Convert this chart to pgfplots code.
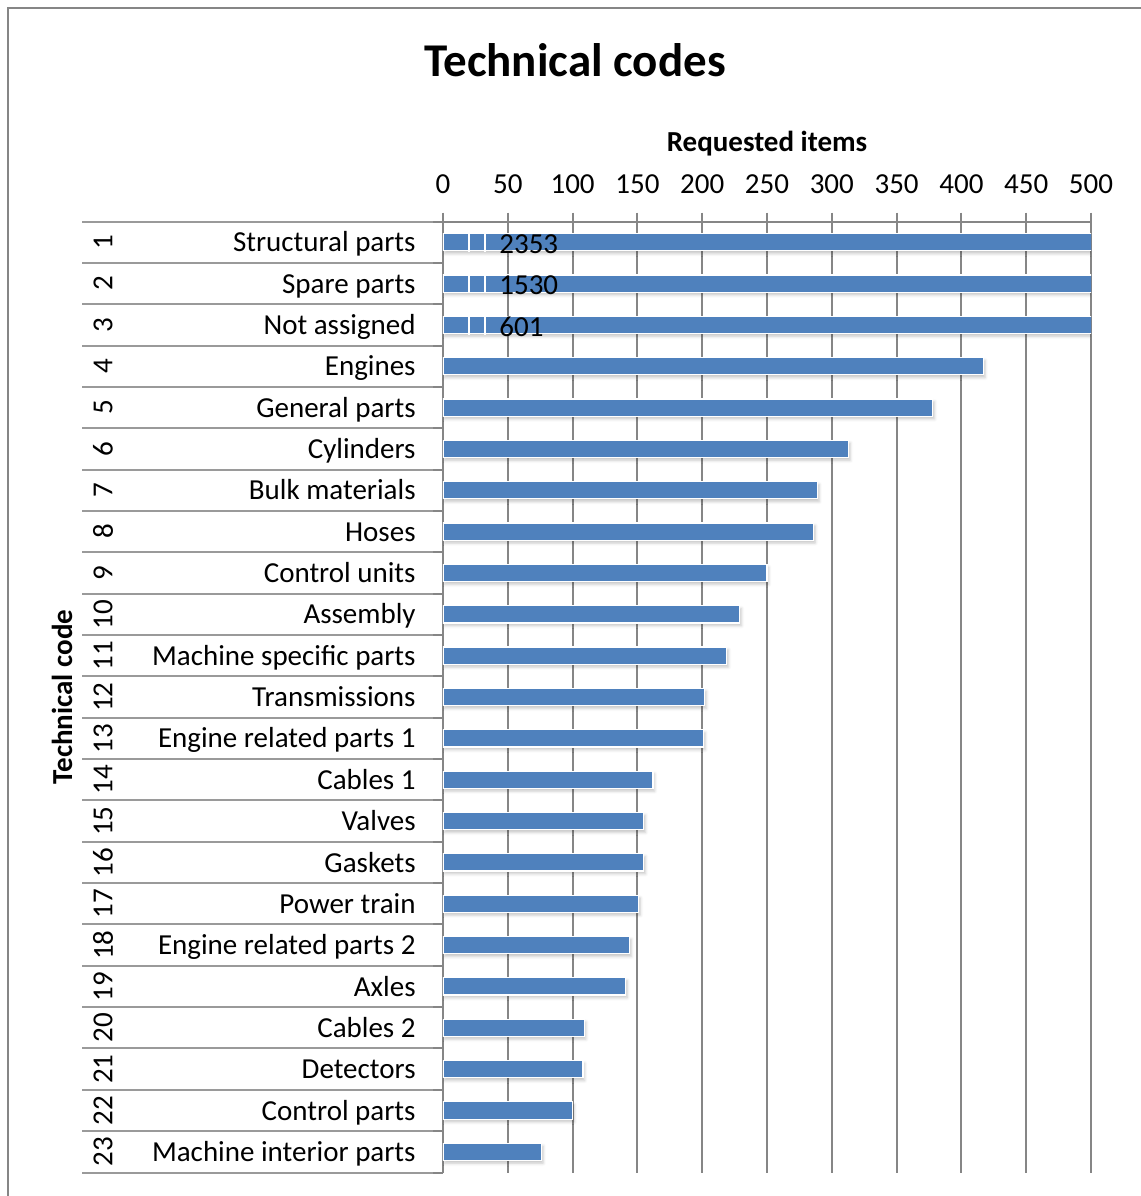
\documentclass[border=0pt]{standalone}
\usepackage{pgfplots}
\pgfplotsset{compat=1.18}
\usepackage{fontspec}
\setmainfont{Carlito}
\usetikzlibrary{shadows.blur}
\definecolor{barc}{HTML}{4F81BD}
\definecolor{gridc}{HTML}{868686}
\definecolor{sepc}{HTML}{9A9A9A}
\newcommand{\lbl}{\fontsize{14.5}{17}\selectfont}
\begin{document}
\begin{tikzpicture}
\path[use as bounding box] (0pt,0pt) rectangle (570.5pt,-598pt);
\draw[gridc, line width=1pt] (4pt,-598pt) -- (4pt,-4pt) -- (570.5pt,-4pt);
\node[font=\fontsize{23.5}{28}\selectfont\bfseries] at (287.5pt,-30pt) {Technical codes};
\node[font=\lbl\bfseries] at (383.5pt,-72pt) {Requested items};
\node[font=\lbl\bfseries, rotate=90] at (31pt,-348.5pt) {Technical code};
\begin{axis}[
  scale only axis, width=324pt, height=475.5pt,
  anchor=north west, at={(221.5pt,-110.75pt)},
  xmin=0, xmax=500, ymin=0.5, ymax=23.5, y dir=reverse,
  axis x line*=top, axis y line*=left,
  axis line style={-, draw=gridc, line width=1pt},
  xtick={0,50,...,500}, tick align=outside, major tick length=4.5pt,
  xtick style={draw=gridc, line width=1pt},
  xmajorgrids, major grid style={draw=gridc, line width=1pt},
  ytick={1,...,23}, ytick style={draw=none},
  yticklabels={Structural parts,Spare parts,Not assigned,Engines,General parts,Cylinders,Bulk materials,Hoses,Control units,Assembly,Machine specific parts,Transmissions,Engine related parts 1,Cables 1,Valves,Gaskets,Power train,Engine related parts 2,Axles,Cables 2,Detectors,Control parts,Machine interior parts},
  yticklabel style={font=\lbl, anchor=base east, inner sep=0pt, xshift=-9pt, yshift=-4.8pt},
  xticklabel style={font=\lbl, yshift=6pt},
  /pgf/number format/assume math mode=true,
  clip mode=individual,
]
\addplot[xbar, bar width=8.6pt, fill=barc, draw=white, line width=0.6pt,
  blur shadow={shadow xshift=0.8pt, shadow yshift=-1.4pt, shadow blur radius=1.4pt, shadow opacity=22}]
  coordinates {
  (2353,1) (1530,2) (601,3) (417,4) (378,5) (313,6) (289,7) (286,8) (250,9) (229,10)
  (219,11) (202,12) (201,13) (162,14) (155,15) (155,16) (151,17) (144,18) (141,19)
  (109,20) (108,21) (100,22) (76,23)};
\pgfplotsinvokeforeach{1,2,3}{
  \fill[white] (axis cs:19.3,#1-0.24) rectangle (axis cs:20.6,#1+0.24);
  \fill[white] (axis cs:31.6,#1-0.24) rectangle (axis cs:33.0,#1+0.24);
}
\node[font=\lbl, anchor=west, inner sep=0pt] at (axis cs:43.2,1.04) {2353};
\node[font=\lbl, anchor=west, inner sep=0pt] at (axis cs:43.2,2.04) {1530};
\node[font=\lbl, anchor=west, inner sep=0pt] at (axis cs:43.2,3.04) {601};
\pgfplotsinvokeforeach{1,...,23}{
  \node[font=\lbl, rotate=90] at (axis cs:-262.3,#1) {#1};
}
\pgfplotsinvokeforeach{0.5,1.5,2.5,3.5,4.5,5.5,6.5,7.5,8.5,9.5,10.5,11.5,12.5,13.5,14.5,15.5,16.5,17.5,18.5,19.5,20.5,21.5,22.5,23.5}{
  \draw[sepc, line width=1pt] (axis cs:-278.5,#1) -- (axis cs:-7.7,#1);
  \draw[gridc, line width=1pt] (axis cs:-7.7,#1) -- (axis cs:0,#1);
}
\end{axis}
\end{tikzpicture}
\end{document}
